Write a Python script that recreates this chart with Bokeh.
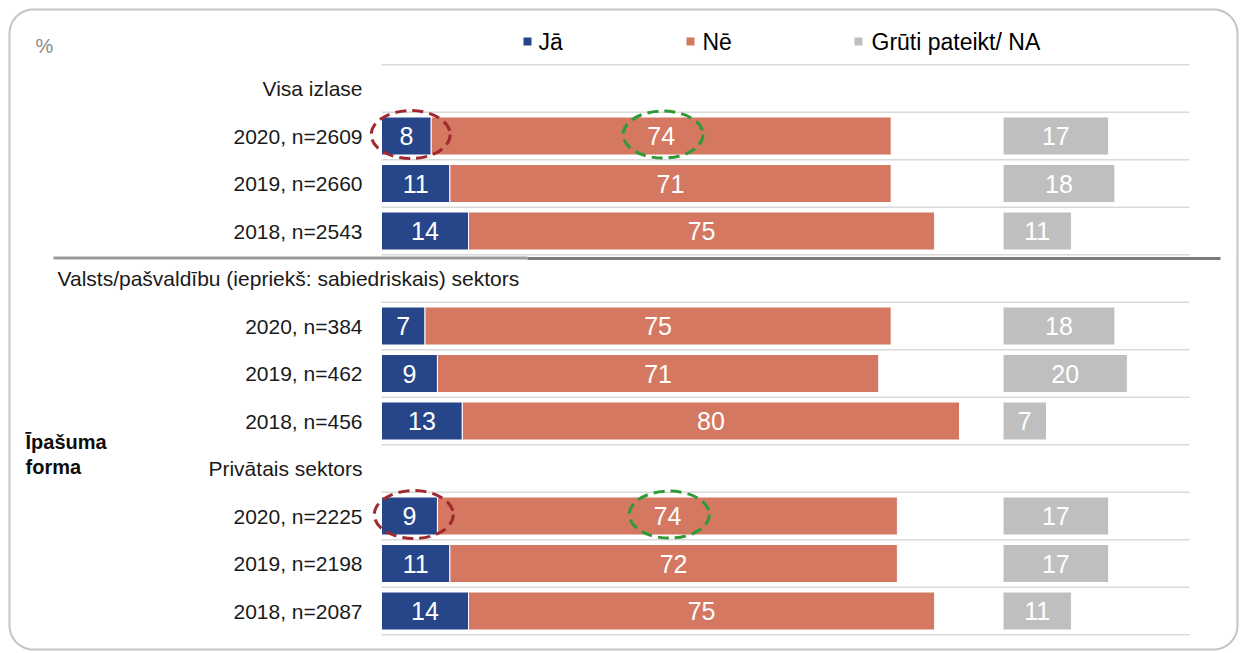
import numpy as np
from bokeh.plotting import figure
from bokeh.models import Range1d, ColumnDataSource
from bokeh.core.properties import value
from bokeh.embed import file_html
from bokeh.resources import INLINE

# ---------------- data ----------------
series = ["Jā", "Nē", "Grūti pateikt/ NA"]
colors = ["#27468a", "#d47862", "#bfbfbf"]
groups = ["Visa izlase",
          "Valsts/pašvaldību  (iepriekš: sabiedriskais) sektors",
          "Privātais sektors"]
years = ["2020", "2019", "2018"]
sample_n = [[2609, 2660, 2543], [384, 462, 456], [2225, 2198, 2087]]
ja = [[8, 11, 14], [7, 9, 13], [9, 11, 14]]
ne = [[74, 71, 75], [75, 71, 80], [74, 72, 75]]
na = [[17, 18, 11], [18, 20, 7], [17, 17, 11]]
side_title = ["Īpašuma", "forma"]
unit_label = "%"
highlight = [(0, 0), (2, 0)]   # (group, year) rows that are circled

# ---------------- layout ----------------
W, H = 1240, 653
PAGE_OFF = 0
X0_PAGE = 381.0          # page x of value 0
GRID_END = 130           # value where grid lines end
PX_PER = 808.0 / GRID_END
ROW0_PAGE = 88.0         # page y of first row
ROW_H = 47.5
NA_START = 100           # third segment starts here
FONT = value("Liberation Sans")


def fx(px):
    return (px - X0_PAGE) / PX_PER


def fy(py):
    return (py - ROW0_PAGE) / ROW_H


p = figure(width=W, height=H,
           x_range=Range1d(fx(PAGE_OFF), fx(PAGE_OFF + W)),
           y_range=Range1d(fy(PAGE_OFF + H), fy(PAGE_OFF)),
           output_backend="svg", toolbar_location=None,
           x_axis_location=None, y_axis_location=None,
           min_border=0)
p.grid.visible = False
p.outline_line_color = None
p.background_fill_color = "white"
p.border_fill_color = "white"

# rows
bar_rows, labels, j_vals, n_vals, a_vals = [], [], [], [], []
header_rows = []
for g in range(len(groups)):
    header_rows.append(4 * g)
    for k in range(len(years)):
        bar_rows.append(4 * g + 1 + k)
        labels.append(f"{years[k]}, n={sample_n[g][k]}")
        j_vals.append(ja[g][k])
        n_vals.append(ne[g][k])
        a_vals.append(na[g][k])

j_arr = np.array(j_vals, dtype=float)
n_arr = np.array(n_vals, dtype=float)
a_arr = np.array(a_vals, dtype=float)

src = ColumnDataSource(dict(
    y=bar_rows, lab=labels,
    j0=np.zeros_like(j_arr), j1=j_arr,
    n0=j_arr, n1=j_arr + n_arr,
    a0=np.full_like(a_arr, NA_START), a1=NA_START + a_arr,
    jc=j_arr / 2, nc=j_arr + n_arr / 2, ac=NA_START + a_arr / 2,
    jt=[str(v) for v in j_vals], nt=[str(v) for v in n_vals], at=[str(v) for v in a_vals],
))

# frame (rounded rectangle)
def rounded(l, t, r, b, rad, n=20):
    pts = []
    for cx, cy, a0 in [(r - rad, t + rad, -90), (r - rad, b - rad, 0),
                       (l + rad, b - rad, 90), (l + rad, t + rad, 180)]:
        ang = np.radians(np.linspace(a0, a0 + 90, n))
        pts += list(zip(cx + rad * np.cos(ang), cy + rad * np.sin(ang)))
    pts.append(pts[0])
    xs = [fx(q[0]) for q in pts]
    ys = [fy(q[1]) for q in pts]
    return xs, ys

fxs, fys = rounded(9, 9, 1237, 649, 24)
p.line(fxs, fys, line_color="#c4c4c4", line_width=2)

# grid lines
bounds = np.arange(-0.5, bar_rows[-1] + 1, 1.0)
p.segment(x0=np.zeros_like(bounds), x1=np.full_like(bounds, GRID_END),
          y0=bounds, y1=bounds, line_color="#d9d9d9", line_width=1.5)

# separator
p.segment(x0=[fx(53)], x1=[fx(527)], y0=[fy(257.5)], y1=[fy(257.5)],
          line_color="#9a9a9a", line_width=3)
p.segment(x0=[fx(527)], x1=[fx(1220)], y0=[fy(258)], y1=[fy(258)],
          line_color="#7a7a7a", line_width=3)

# bars
BH = 0.8
p.hbar(y="y", left="j0", right="j1", height=BH, source=src,
       fill_color=colors[0], line_color="white", line_width=1)
p.hbar(y="y", left="n0", right="n1", height=BH, source=src,
       fill_color=colors[1], line_color="white", line_width=1)
p.hbar(y="y", left="a0", right="a1", height=BH, source=src,
       fill_color=colors[2], line_color="white", line_width=1)

# value labels
for xc, tc in [("jc", "jt"), ("nc", "nt"), ("ac", "at")]:
    p.text(x=xc, y="y", text=tc, source=src, text_color="white",
           text_font=FONT, text_font_size="25px",
           text_align="center", text_baseline="middle")

# row labels
p.text(x=[fx(362)] * len(labels), y=bar_rows, text=labels,
       text_color="#1a1a1a", text_font=FONT, text_font_size="21px",
       text_align="right", text_baseline="middle")

# group headers
for g, name in enumerate(groups):
    if g == 1:
        p.text(x=[fx(57)], y=[header_rows[g]], text=[name], text_color="#1a1a1a",
               text_font=FONT, text_font_size="21px",
               text_align="left", text_baseline="middle")
    else:
        p.text(x=[fx(362)], y=[header_rows[g]], text=[name], text_color="#1a1a1a",
               text_font=FONT, text_font_size="21px",
               text_align="right", text_baseline="middle")

# side title
p.text(x=[fx(25)] * 2, y=[fy(441), fy(466)], text=side_title,
       text_color="#0d0d0d", text_font=FONT, text_font_size="20px",
       text_font_style="bold", text_align="left", text_baseline="middle")

# unit label
p.text(x=[fx(35)], y=[fy(45)], text=[unit_label], text_color="#8a8a8a",
       text_font=FONT, text_font_size="20px",
       text_align="left", text_baseline="middle")

# legend
leg_sq = [527, 690, 858]
leg_tx = [538, 702, 871]
p.scatter(x=[fx(v) for v in leg_sq], y=[fy(41)] * 3, marker="square",
          size=8, fill_color=colors, line_color=None)
p.text(x=[fx(v) for v in leg_tx], y=[fy(41)] * 3, text=series,
       text_color="#000000", text_font=FONT, text_font_size="23px",
       text_align="left", text_baseline="middle")

# highlight ellipses
for g, k in highlight:
    r = 4 * g + 1 + k
    jv, nv = ja[g][k], ne[g][k]
    p.ellipse(x=[jv / 2 + 0.7], y=[r - 0.03], width=79, height=48,
              width_units="screen", height_units="screen",
              fill_color=None, line_color="#a0282e", line_width=3, line_dash="11 6")
    p.ellipse(x=[jv + nv / 2 + 0.3], y=[r - 0.03], width=80, height=47,
              width_units="screen", height_units="screen",
              fill_color=None, line_color="#2f9a36", line_width=3, line_dash="11 6")

open("out.html", "w").write(file_html(p, INLINE))
